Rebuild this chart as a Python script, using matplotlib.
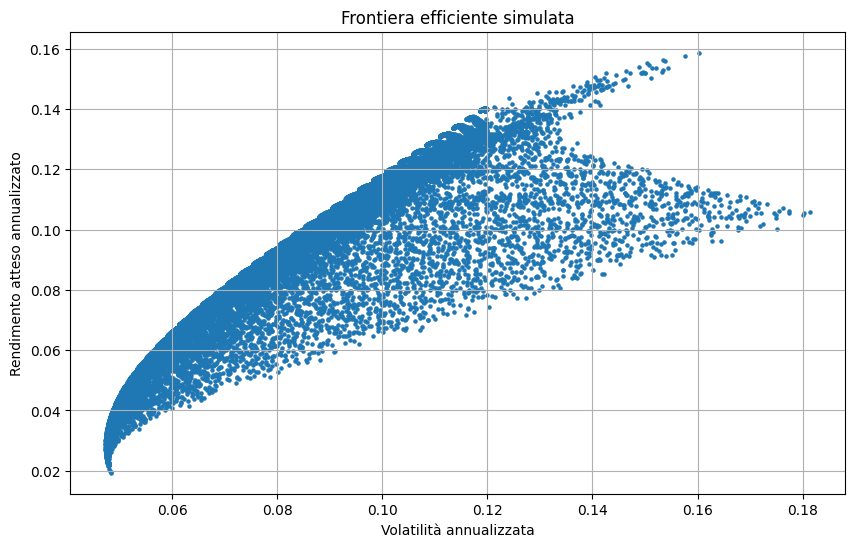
import numpy as np
import matplotlib
matplotlib.use("Agg")
import matplotlib.pyplot as plt

# ---- Data (asset statistics estimated from the chart) ----
asset_labels = ["Obbligazionario", "Azionario difensivo", "Azionario growth", "Materie prime"]
exp_returns = np.array([0.018, 0.141, 0.161, 0.105])
volatilities = np.array([0.0487, 0.120, 0.165, 0.186])
correlations = np.array([
    [1.000, 0.183, 0.100, 0.080],
    [0.183, 1.000, 0.860, 0.570],
    [0.100, 0.860, 1.000, 0.180],
    [0.080, 0.570, 0.180, 1.000],
])
sparse_weight_scale = np.array([2.2, 0.45, 0.85, 1.4])
vol_cap = 0.12          # dense set of simulated portfolios stops at 12% volatility
n_sparse = 7500
n_dense = 15000

title = "Frontiera efficiente simulata"
xlabel = "Volatilità annualizzata"
ylabel = "Rendimento atteso annualizzato"


def kronecker(n, d, offset):
    """Deterministic low-discrepancy sequence in [0,1)^d."""
    phi = 2.0
    for _ in range(60):
        phi = (1.0 + phi) ** (1.0 / (d + 1))
    alpha = (1.0 / phi) ** np.arange(1, d + 1)
    idx = np.arange(1, n + 1)[:, None]
    return (offset + idx * alpha) % 1.0


cov = np.outer(volatilities, volatilities) * correlations


def portfolio_stats(w):
    ret = w @ exp_returns
    var = np.einsum("ij,jk,ik->i", w, cov, w)
    return np.sqrt(np.maximum(var, 0.0)), ret


# sparse set: weights spread over the whole simplex
u = kronecker(n_sparse, 4, 0.5)
g = -np.log(u) * sparse_weight_scale
w_sparse = g / g.sum(axis=1, keepdims=True)
vol_s, ret_s = portfolio_stats(w_sparse)

# dense set: portfolios close to the bond/defensive mix, capped at vol_cap
u = kronecker(n_dense, 3, 0.25)
t = u[:, 0] ** 0.8
e = 0.3 * u[:, 1] ** 3
a = 0.3 * u[:, 2]
w_dense = np.column_stack([(1 - e) * (1 - t), (1 - e) * t, e * a, e * (1 - a)])
vol_d, ret_d = portfolio_stats(w_dense)
keep = vol_d <= vol_cap
vol_d, ret_d = vol_d[keep], ret_d[keep]

vols = np.concatenate([vol_d, vol_s])
rets = np.concatenate([ret_d, ret_s])

fig, ax = plt.subplots(figsize=(10, 6))
ax.scatter(vols, rets, s=5)
ax.set_title(title)
ax.set_xlabel(xlabel)
ax.set_ylabel(ylabel)
ax.grid(True)
fig.savefig("out.png", dpi=100, bbox_inches="tight")
